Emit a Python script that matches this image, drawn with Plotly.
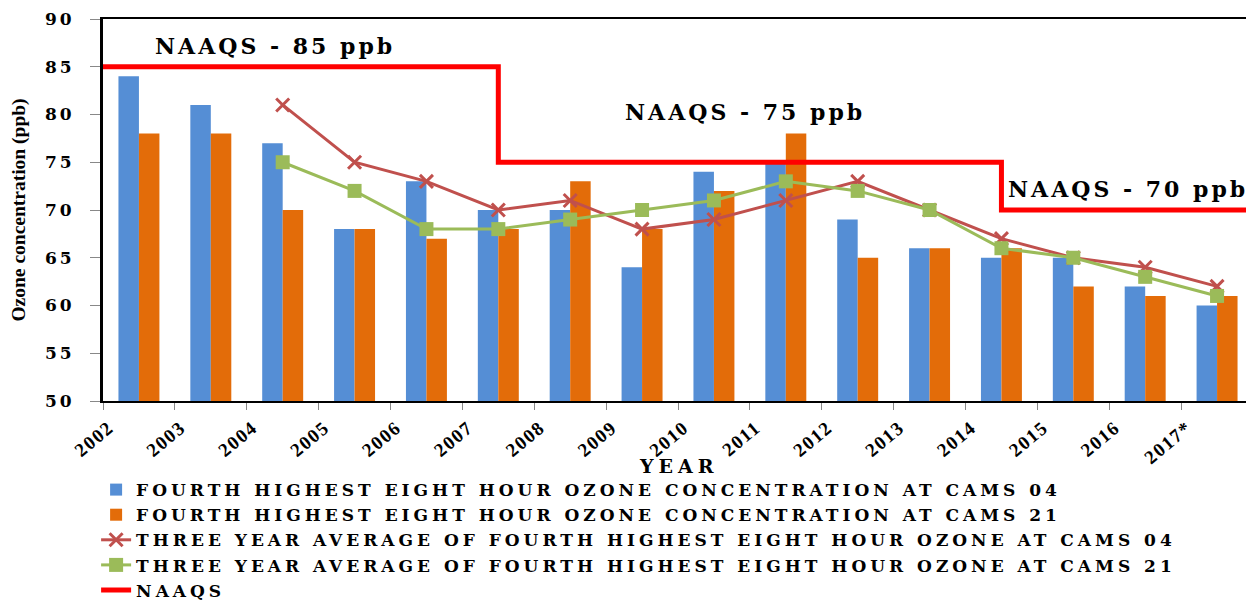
import plotly.graph_objects as go

years = ["2002", "2003", "2004", "2005", "2006", "2007", "2008", "2009",
         "2010", "2011", "2012", "2013", "2014", "2015", "2016", "2017*"]
cams04 = [84, 81, 77, 68, 73, 70, 70, 64, 74, 75, 69, 66, 65, 65, 62, 60]
cams21 = [78, 78, 70, 68, 67, 68, 73, 68, 72, 78, 65, 66, 66, 62, 61, 61]
avg04_years = years[2:]
avg04 = [81, 75, 73, 70, 71, 68, 69, 71, 73, 70, 67, 65, 64, 62]
avg21 = [75, 72, 68, 68, 69, 70, 71, 73, 72, 70, 66, 65, 63, 61]
# NAAQS step line: (category position, standard value)
naaqs_x = [-0.5, 5, 12, 15.5]
naaqs_y = [85, 75, 70, 70]
naaqs_labels = ["NAAQS - 85 ppb", "NAAQS - 75 ppb", "NAAQS - 70 ppb"]
naaqs_label_pos = [(1.89, 87.2), (8.43, 80.3), (13.76, 72.2)]
series_names = ["FOURTH HIGHEST EIGHT HOUR OZONE CONCENTRATION AT CAMS 04",
                "FOURTH HIGHEST EIGHT HOUR OZONE CONCENTRATION AT CAMS 21",
                "THREE YEAR AVERAGE OF FOURTH HIGHEST EIGHT HOUR OZONE AT CAMS 04",
                "THREE YEAR AVERAGE OF FOURTH HIGHEST EIGHT HOUR OZONE AT CAMS 21",
                "NAAQS"]
y_ticks = [50, 55, 60, 65, 70, 75, 80, 85, 90]

idx = list(range(len(years)))
idx_avg = [years.index(y) for y in avg04_years]

WIDE = "DejaVu Serif"
SERIF = "Liberation Serif"


def wide(txt, sp):
    return '<span style="letter-spacing:%spx"><b>%s</b></span>' % (sp, txt)


fig = go.Figure()
fig.add_trace(go.Bar(x=idx, y=cams04, name=wide(series_names[0], 4),
                     marker=dict(color="#558ED5", line=dict(width=0)), base=0))
fig.add_trace(go.Bar(x=idx, y=cams21, name=wide(series_names[1], 4),
                     marker=dict(color="#E36C09", line=dict(width=0)), base=0))
fig.add_trace(go.Scatter(x=idx_avg, y=avg04, mode="lines+markers", name=wide(series_names[2], 4),
                         line=dict(color="#C0504D", width=3),
                         marker=dict(symbol="x-thin", size=13, line=dict(color="#C0504D", width=3))))
fig.add_trace(go.Scatter(x=idx_avg, y=avg21, mode="lines+markers", name=wide(series_names[3], 4),
                         line=dict(color="#9BBB59", width=3),
                         marker=dict(symbol="square", size=14, color="#9BBB59")))
fig.add_trace(go.Scatter(x=naaqs_x, y=naaqs_y, mode="lines", name=wide(series_names[4], 4),
                         line=dict(color="#FF0000", width=5, shape="hv")))

for txt, (xx, yy) in zip(naaqs_labels, naaqs_label_pos):
    fig.add_annotation(x=xx, y=yy, text=wide(txt, 3), showarrow=False,
                       font=dict(family=WIDE, size=22, color="black"))

# x-axis title placed as a paper annotation
fig.add_annotation(xref="paper", yref="paper", x=0.501, y=-0.170, text=wide("YEAR", 5),
                   showarrow=False, yanchor="middle",
                   font=dict(family=WIDE, size=19, color="black"))

fig.update_layout(
    width=1246, height=615,
    margin=dict(l=95, r=1, t=11, b=222),
    paper_bgcolor="white", plot_bgcolor="white",
    barmode="group", bargap=0.43, bargroupgap=0,
    font=dict(family=WIDE, color="black"),
    showlegend=True,
    legend=dict(orientation="v", x=-0.006, xanchor="left", y=-0.186, yanchor="top",
                font=dict(family=WIDE, size=17, color="black"),
                itemwidth=30, tracegroupgap=0, bgcolor="rgba(0,0,0,0)"),
    xaxis=dict(range=[-0.5, 15.5], tickmode="array", tickvals=idx,
               ticktext=[wide(y, 1.5) for y in years], tickangle=-40,
               tickfont=dict(family=SERIF, size=19, color="black"),
               ticklabelshift=-30, ticklabelstandoff=6,
               showline=True, linecolor="black", linewidth=2, mirror=True,
               ticks="outside", ticklen=0, showgrid=False, zeroline=False, automargin=False,
               minor=dict(tickmode="linear", tick0=-0.5, dtick=1, ticks="outside",
                          ticklen=7, tickcolor="#888888", tickwidth=1)),
    yaxis=dict(range=[50, 90], tickmode="array", tickvals=y_ticks,
               ticktext=[wide(str(v), 3) for v in y_ticks],
               tickfont=dict(family=WIDE, size=17, color="black"),
               ticklabelstandoff=12,
               showline=True, linecolor="black", linewidth=3, mirror=True,
               ticks="outside", ticklen=10, tickcolor="#888888", showgrid=False, zeroline=False,
               automargin=False,
               title=dict(text="<b>Ozone concentration (ppb)</b>",
                          font=dict(family=SERIF, size=19.5, color="black"), standoff=20)),
)

fig.write_html("out.html")
